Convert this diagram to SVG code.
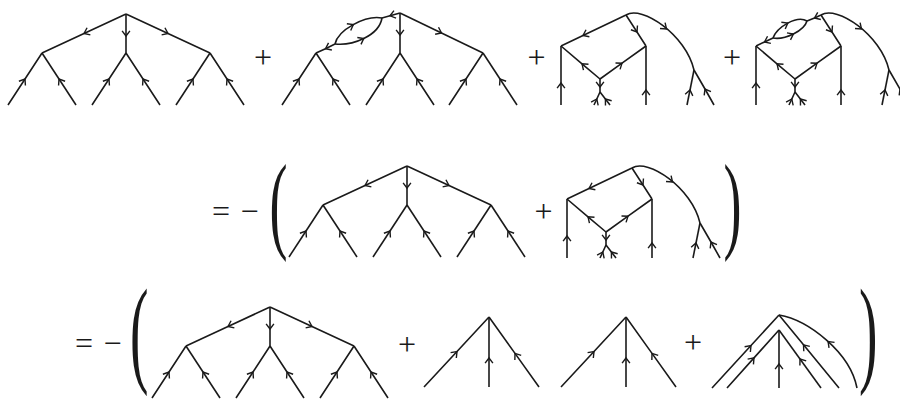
<svg xmlns="http://www.w3.org/2000/svg" xmlns:xlink="http://www.w3.org/1999/xlink" width="900" height="399" viewBox="0 0 900 399">
<style>
.e{fill:none;stroke:#1a1a1a;stroke-width:1.6;marker-mid:url(#a)}
.l{fill:none;stroke:#1a1a1a;stroke-width:1.6}
.m{fill:none;stroke:#1a1a1a;stroke-width:1.6;marker-end:url(#a)}
.t{font-family:"Liberation Serif","Times New Roman",serif;fill:#1a1a1a;font-size:32px;text-anchor:middle}
.p{font-family:"Liberation Serif","Times New Roman",serif;fill:#1a1a1a}
</style>
<defs>
<marker id="a" viewBox="-7 -6 9 12" refX="0" refY="0" markerWidth="9" markerHeight="12" markerUnits="userSpaceOnUse" orient="auto" overflow="visible">
<path d="M-5.2,-3.9 L0,0 L-5.2,3.9" fill="none" stroke="#1a1a1a" stroke-width="1.4"/>
</marker>
<g id="tree">
<path class="e" d="M0,0 L-42,19.5 L-84,39"/>
<path class="e" d="M0,0 L0,22 L0,39"/>
<path class="e" d="M0,0 L42,19.5 L84,39"/>
<path class="e" d="M-118,91 L-101,65 L-84,39"/>
<path class="e" d="M-50,91 L-67,65 L-84,39"/>
<path class="e" d="M-34,91 L-17,65 L0,39"/>
<path class="e" d="M34,91 L17,65 L0,39"/>
<path class="e" d="M50,91 L67,65 L84,39"/>
<path class="e" d="M118,91 L101,65 L84,39"/>
</g>
<g id="box">
<path class="e" d="M626,15 L637,32 L646,46"/>
<path class="e" d="M600,79 L582,63.8 L561,46"/>
<path class="e" d="M600,79 L622,63.2 L646,46"/>
<path class="e" d="M561,105 L561,83 L561,46"/>
<path class="e" d="M646,105 L646,90 L646,46"/>
<path class="e" d="M600,79 L600,87 L600,92"/>
<path class="e" d="M594,105 L596.8,99 L600,92"/>
<path class="e" d="M610,105 L605.4,99 L600,92"/>
<path class="l" d="M626,15 C642,5 686,35 694,70"/>
<path class="m" d="M665.74,28.25 L666.5,28.9"/>
<path class="e" d="M687,105 L690,90 L694,70"/>
<path class="e" d="M714,105 L705,89 L694,70"/>
</g>
<g id="sq">
<path class="e" d="M626,15 L583,35.5 L561,46"/>
<use xlink:href="#box" href="#box"/>
</g>
<g id="fan">
<path class="e" d="M424,387 L457,351.5 L489,317"/>
<path class="e" d="M489,387 L489,358 L489,317"/>
<path class="e" d="M539,387 L515,353.4 L489,317"/>
</g>
</defs>

<g id="connectors">
<!-- Row 1 -->
<g id="r1d1"><use xlink:href="#tree" href="#tree" transform="translate(126,14)"/></g>
<g id="r1d2">
<path class="e" d="M400,13 L400,35 L400,53"/>
<path class="e" d="M400,13 L441.5,33 L483,53"/>
<path class="e" d="M282,105 L299,79 L316,53"/>
<path class="e" d="M350,105 L333,79 L316,53"/>
<path class="e" d="M366,105 L383,79 L400,53"/>
<path class="e" d="M434,105 L417,79 L400,53"/>
<path class="e" d="M449,105 L466,79 L483,53"/>
<path class="e" d="M517,105 L500,79 L483,53"/>
<path class="e" d="M400,13 L390,15.8 L382,18"/>
<path class="e" d="M335,44 L325.5,48.7 L316,53"/>
<path class="l" d="M335,44 C338,30 365,15 382,18"/>
<path class="m" d="M352.6,25 L353.3,24.6"/>
<path class="l" d="M335,44 C352,46 379,36 382,18"/>
<path class="m" d="M363,38.9 L363.75,38.5"/>
</g>
<g id="r1d3"><use xlink:href="#sq" href="#sq"/></g>
<g id="r1d4">
<use xlink:href="#box" href="#box" transform="translate(195,0)"/>
<path class="e" d="M773,38 L764.5,42 L756,46"/>
<path class="e" d="M821,15 L814.5,18 L807,21"/>
<path class="l" d="M773,38 C777,27 797,15 807,21"/>
<path class="m" d="M787.1,23.5 L787.8,23.1"/>
<path class="l" d="M773,38 C785,40 804,31 807,21"/>
<path class="m" d="M792.7,34.35 L793.4,34"/>
</g>
<!-- Row 2 -->
<g id="r2d1"><use xlink:href="#tree" href="#tree" transform="translate(407,166)"/></g>
<g id="r2d2"><use xlink:href="#sq" href="#sq" transform="translate(6,153)"/></g>
<!-- Row 3 -->
<g id="r3d1"><use xlink:href="#tree" href="#tree" transform="translate(270,307)"/></g>
<g id="r3d2"><use xlink:href="#fan" href="#fan"/></g>
<g id="r3d3"><use xlink:href="#fan" href="#fan" transform="translate(137,0)"/></g>
<g id="r3d4">
<path class="e" d="M712,388 L751,345.5 L779,315"/>
<path class="e" d="M727,388 L754,357.9 L779,330"/>
<path class="e" d="M779,388 L779,364 L779,330"/>
<path class="e" d="M821,388 L800,359 L779,330"/>
<path class="e" d="M839,388 L803.5,344.8 L779,315"/>
<path class="l" d="M779,315 C808,320 850,352 857,388"/>
<path class="m" d="M828.8,342.2 L828.1,341.5"/>
</g>
</g>

<g id="labels">
<text class="t" x="263" y="68">+</text>
<text class="t" x="536.5" y="68">+</text>
<text class="t" x="732" y="68">+</text>
<text class="t" x="221" y="222">=</text>
<text class="t" x="249.5" y="222">−</text>
<text class="t" x="543.5" y="222">+</text>
<text class="t" x="84" y="354">=</text>
<text class="t" x="112.5" y="354">−</text>
<text class="t" x="407" y="355">+</text>
<text class="t" x="693" y="353">+</text>
<text class="p" font-size="108" transform="translate(269.5,238.5) scale(0.5,1)">(</text>
<text class="p" font-size="108" transform="translate(723.5,238.5) scale(0.5,1)">)</text>
<text class="p" font-size="118" transform="translate(130,370.5) scale(0.47,1)">(</text>
<text class="p" font-size="118" transform="translate(859,370.5) scale(0.47,1)">)</text>
</g>
</svg>
